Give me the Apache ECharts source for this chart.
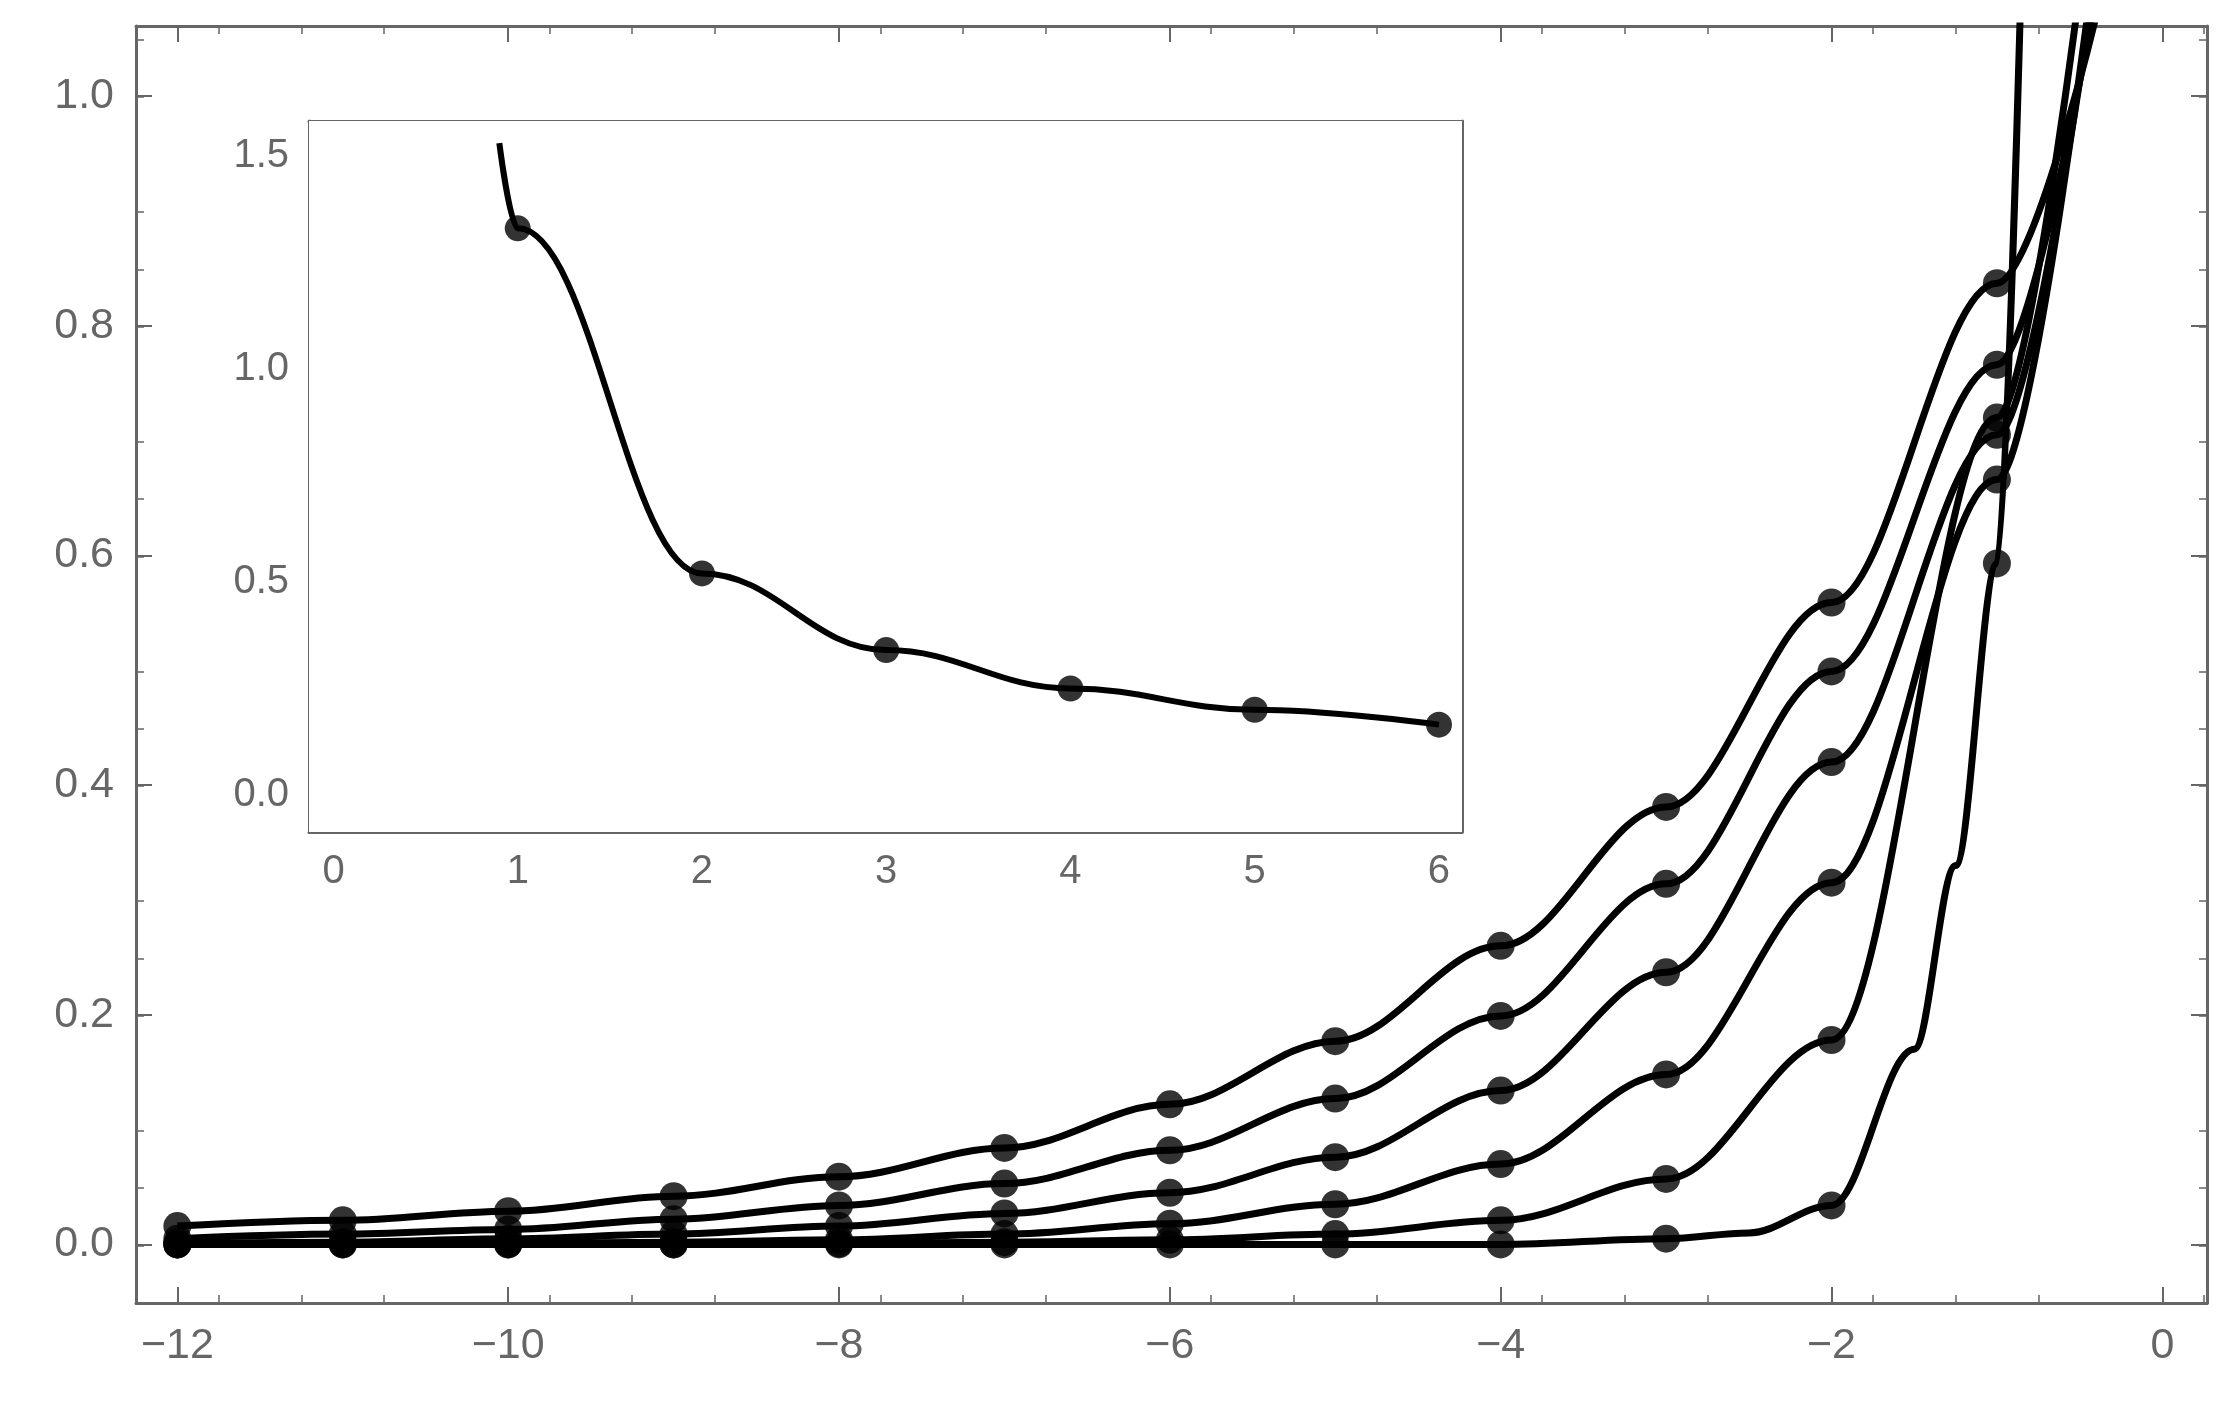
<!DOCTYPE html>
<html>
<head>
<meta charset="utf-8">
<script src="https://cdn.jsdelivr.net/npm/echarts@6/dist/echarts.min.js"></script>
<style>html,body{margin:0;padding:0;background:#fff}#chart{width:2225px;height:1412px}</style>
</head>
<body>
<div id="chart"></div>
<script>
// main plot: dots at integer x
var xDots = [-12, -11, -10, -9, -8, -7, -6, -5, -4, -3, -2, -1];
var curve1 = [0.016, 0.021, 0.029, 0.042, 0.059, 0.084, 0.122, 0.177, 0.260, 0.381, 0.559, 0.837];
var curve2 = [0.005, 0.009, 0.013, 0.022, 0.034, 0.053, 0.082, 0.127, 0.199, 0.314, 0.499, 0.766];
var curve3 = [0.001, 0.002, 0.005, 0.009, 0.016, 0.027, 0.045, 0.076, 0.134, 0.237, 0.420, 0.705];
var curve4 = [0.000, 0.001, 0.001, 0.002, 0.004, 0.009, 0.018, 0.035, 0.070, 0.148, 0.315, 0.666];
var curve5 = [0.000, 0.000, 0.000, 0.000, 0.001, 0.002, 0.004, 0.009, 0.021, 0.057, 0.178, 0.720];
var curve6 = [0.000, 0.000, 0.000, 0.000, 0.000, 0.000, 0.000, 0.000, 0.000, 0.005, 0.034, 0.593];
// where each curve runs off the top of the frame
var endX = [-0.4, -0.4, -0.4, -0.4, -0.45, -0.85];
var endY = [1.07, 1.09, 1.11, 1.13, 1.15, 1.12];
// extra reading between dots on the steep curve
var steepExtraX = [-2.5, -1.5, -1.25];
var steepExtraY = [0.010, 0.17, 0.33];

// inset
var insetX = [1, 2, 3, 4, 5, 6];
var insetY = [1.33, 0.52, 0.34, 0.25, 0.20, 0.165];
var insetStart = [0.9, 1.53];

var curves = [curve1, curve2, curve3, curve4, curve5, curve6];
var gray = '#666';

function pairs(xs, ys) {
    return xs.map(function (x, i) { return [x, ys[i]]; });
}

var series = [];
curves.forEach(function (c, k) {
    var pts = pairs(xDots, c);
    if (k == 5) {
        pts = pts.concat(pairs(steepExtraX, steepExtraY));
        pts.sort(function (a, b) { return a[0] - b[0]; });
    }
    pts.push([endX[k], endY[k]]);
    series.push({
        type: 'line', xAxisIndex: 0, yAxisIndex: 0, data: pts, smooth: 0.35,
        smoothMonotone: 'x', showSymbol: false, clip: true,
        lineStyle: { color: '#000', width: 7 }, z: 2
    });
    series.push({
        type: 'scatter', xAxisIndex: 0, yAxisIndex: 0, data: pairs(xDots, c),
        symbolSize: 28, itemStyle: { color: '#000' }, z: 3
    });
});
series.push({
    type: 'line', xAxisIndex: 2, yAxisIndex: 2,
    data: [insetStart].concat(pairs(insetX, insetY)), smooth: 0.4,
    smoothMonotone: 'x', showSymbol: false,
    lineStyle: { color: '#000', width: 6 }, z: 2
});
series.push({
    type: 'scatter', xAxisIndex: 2, yAxisIndex: 2, data: pairs(insetX, insetY),
    symbolSize: 26, itemStyle: { color: '#000' }, z: 3
});

function axis(opt, show, interval, min, max, fmt, pos, gi, fontSize) {
    return Object.assign({
        type: 'value', gridIndex: gi, position: pos, min: min, max: max, interval: interval,
        axisLine: { show: true, onZero: false, lineStyle: { color: gray, width: 3 } },
        axisTick: { show: true, inside: true, length: 16, lineStyle: { color: gray, width: 2 } },
        minorTick: { show: true, splitNumber: 4, length: 8, lineStyle: { color: gray, width: 1.5 } },
        splitLine: { show: false },
        axisLabel: {
            show: show, color: gray, fontSize: fontSize, fontFamily: 'Liberation Sans, Arial',
            margin: 22, formatter: fmt, showMinLabel: true, showMaxLabel: true
        }
    }, opt);
}
function fx0(v) { return v < 0 ? '\u2212' + Math.abs(v) : String(v); }
function fy1(v) { return v.toFixed(1); }
function custom(vals) {
    return function (v) { return vals.some(function (t) { return Math.abs(t - v) < 1e-6; }) ? (v < 0 ? '\u2212' + Math.abs(v) : String(v)) : ''; };
}

var chart = echarts.init(document.getElementById('chart'));
chart.setOption({
    animation: false,
    grid: [
        { left: 136, top: 26, width: 2071, height: 1277 },
        { left: 136, top: 26, width: 2071, height: 1277 },
        { left: 309, top: 121, width: 1153, height: 711, backgroundColor: '#fff', show: true, borderWidth: 0, z: 1 }
    ],
    xAxis: [
        axis({ min: -12.25, max: 0.27, interval: 2, axisTick: { show: true, inside: true, length: 16, lineStyle: { color: gray, width: 2 }, customValues: [-12, -10, -8, -6, -4, -2, 0] }, axisLabel: { color: gray, fontSize: 43, margin: 22, fontFamily: 'Liberation Sans, Arial', customValues: [-12, -10, -8, -6, -4, -2, 0], formatter: fx0 } }, true, 2, -12.25, 0.27, fx0, 'bottom', 0, 43),
        axis({ axisTick: { show: true, inside: true, length: 16, lineStyle: { color: gray, width: 2 }, customValues: [-12, -10, -8, -6, -4, -2, 0] } }, false, 2, -12.25, 0.27, fx0, 'top', 1, 43),
        axis({ axisTick: { show: true, inside: true, length: 14, lineStyle: { color: gray, width: 2 }, customValues: [0, 1, 2, 3, 4, 5, 6] }, axisLabel: { color: gray, fontSize: 40, margin: 20, fontFamily: 'Liberation Sans, Arial', customValues: [0, 1, 2, 3, 4, 5, 6] } }, true, 1, -0.133, 6.125, null, 'bottom', 2, 40),
        axis({ axisTick: { show: true, inside: true, length: 14, lineStyle: { color: gray, width: 2 }, customValues: [0, 1, 2, 3, 4, 5, 6] } }, false, 1, -0.133, 6.125, null, 'top', 2, 40)
    ],
    yAxis: [
        axis({ axisTick: { show: true, inside: true, length: 16, lineStyle: { color: gray, width: 2 }, customValues: [0, 0.2, 0.4, 0.6, 0.8, 1.0] }, axisLabel: { color: gray, fontSize: 43, margin: 22, fontFamily: 'Liberation Sans, Arial', customValues: [0, 0.2, 0.4, 0.6, 0.8, 1.0], formatter: fy1 } }, true, 0.2, -0.051, 1.061, fy1, 'left', 0, 43),
        axis({ axisTick: { show: true, inside: true, length: 16, lineStyle: { color: gray, width: 2 }, customValues: [0, 0.2, 0.4, 0.6, 0.8, 1.0] } }, false, 0.2, -0.051, 1.061, fy1, 'right', 1, 43),
        axis({ axisTick: { show: true, inside: true, length: 14, lineStyle: { color: gray, width: 2 }, customValues: [0, 0.5, 1.0, 1.5] }, axisLabel: { color: gray, fontSize: 40, margin: 20, fontFamily: 'Liberation Sans, Arial', customValues: [0, 0.5, 1.0, 1.5], formatter: fy1 } }, true, 0.5, -0.087, 1.582, fy1, 'left', 2, 40),
        axis({ axisTick: { show: true, inside: true, length: 14, lineStyle: { color: gray, width: 2 }, customValues: [0, 0.5, 1.0, 1.5] } }, false, 0.5, -0.087, 1.582, fy1, 'right', 2, 40)
    ],
    series: series
});
</script>
</body>
</html>
